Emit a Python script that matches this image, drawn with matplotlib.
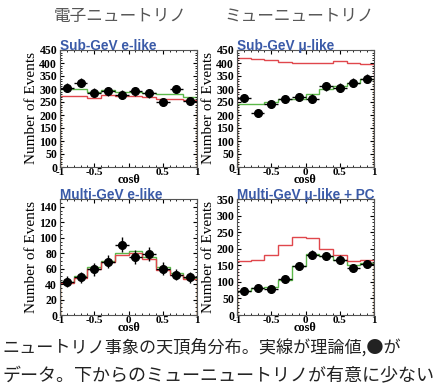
import numpy as np
import matplotlib
matplotlib.use("Agg")
import matplotlib.pyplot as plt
from matplotlib.ticker import MultipleLocator

# bin edges in cos(theta)
edges = [-1, -0.8, -0.6, -0.4, -0.2, 0, 0.2, 0.4, 0.6, 0.8, 1]
centers = [-0.9, -0.7, -0.5, -0.3, -0.1, 0.1, 0.3, 0.5, 0.7, 0.9]

# Sub-GeV e-like
sge_data = [305, 325, 285, 292, 278, 292, 283, 250, 300, 255]
sge_err = [17, 18, 17, 17, 17, 17, 17, 16, 17, 16]
sge_green = [300, 300, 288, 298, 290, 290, 285, 280, 280, 270]
sge_red = [275, 275, 265, 278, 275, 272, 270, 262, 262, 258]

# Sub-GeV mu-like
sgm_data = [265, 208, 242, 262, 268, 263, 310, 305, 325, 340]
sgm_err = [16, 14, 16, 16, 16, 16, 18, 17, 18, 18]
sgm_green = [242, 242, 250, 262, 262, 280, 300, 310, 325, 340]
sgm_red = [420, 416, 410, 402, 400, 400, 400, 407, 400, 398]

# Multi-GeV e-like
mge_data = [43, 49, 59, 69, 91, 75, 79, 60, 52, 49]
mge_err = [7, 7, 8, 8, 10, 9, 9, 8, 7, 7]
mge_green = [43, 50, 62, 70, 80, 83, 75, 62, 54, 48]
mge_red = [41, 48, 60, 68, 78, 80, 72, 58, 52, 46]

# Multi-GeV mu-like + PC
mgm_data = [72, 82, 78, 108, 148, 182, 178, 167, 143, 153]
mgm_err = [9, 9, 9, 10, 12, 13, 13, 13, 12, 12]
mgm_green = [73, 80, 85, 105, 148, 183, 178, 165, 150, 158]
mgm_red = [163, 165, 180, 210, 235, 232, 200, 180, 163, 165]

titles = ["Sub-GeV e-like", "Sub-GeV \u03bc-like", "Multi-GeV e-like", "Multi-GeV \u03bc-like + PC"]
header_labels = ["電子ニュートリノ", "ミューニュートリノ"]
caption = ["ニュートリノ事象の天頂角分布。実線が理論値,●が",
           "データ。下からのミューニュートリノが有意に少ない"]

W, H = 437, 389
fig = plt.figure(figsize=(W / 100, H / 100), dpi=100)

serif = "Liberation Serif"
cjk = ["Noto Sans CJK JP", "DejaVu Sans"]


def panel(rect, data, err, green, red, title, ymax, ystep, yminor, show_zero=True):
    l, t, w, h = rect
    ax = fig.add_axes([l / W, (H - t - h) / H, w / W, h / H])
    ax.stairs(green, edges, baseline=0, color="#5cb84a", lw=1.0)
    ax.stairs(red, edges, baseline=0, color="#e0474c", lw=1.0)
    ax.errorbar(centers, data, yerr=err, xerr=0.1, fmt="o", color="black",
                ms=5.5, elinewidth=1.0, capsize=0)
    ax.set_xlim(-1, 1)
    ax.set_ylim(0, ymax)
    ax.yaxis.set_major_locator(MultipleLocator(ystep))
    ax.yaxis.set_minor_locator(MultipleLocator(yminor))
    ax.xaxis.set_minor_locator(MultipleLocator(0.1))
    ticks = [-1, -0.5, 0, 0.5, 1]
    labels = ["-1", "-0.5", "0" if show_zero else "", "0.5", "1"]
    ax.set_xticks(ticks)
    ax.set_xticklabels(labels)
    ax.tick_params(which="both", direction="in", labelsize=8.5, pad=2,
                   top=True, right=True)
    ax.tick_params(axis="x", pad=0.5, labelsize=8)
    ax.tick_params(which="major", length=3)
    ax.tick_params(which="minor", length=1.5)
    for lab in ax.get_xticklabels() + ax.get_yticklabels():
        lab.set_fontfamily(serif)
        lab.set_fontweight("bold")
    for s in ax.spines.values():
        s.set_color("#555555")
        s.set_linewidth(0.8)
    ax.set_ylabel("Number of Events", fontfamily=serif, fontsize=11, labelpad=1)
    ax.set_xlabel("cos\u03b8", fontfamily=serif, fontweight="bold", fontsize=8.8,
                  labelpad=-1.8)
    ax.text(0.0, 1.0, title, transform=ax.transAxes, ha="left", va="baseline",
            fontfamily="Liberation Sans", fontweight="bold", fontsize=9.8,
            color="#3a5aa8")
    return ax


panel((60, 50, 137, 117), sge_data, sge_err, sge_green, sge_red, titles[0],
      450, 50, 10, show_zero=False)
panel((237, 50, 137, 117), sgm_data, sgm_err, sgm_green, sgm_red, titles[1],
      450, 50, 10)
panel((60, 199, 137, 116), mge_data, mge_err, mge_green, mge_red, titles[2],
      150, 20, 5)
panel((237, 199, 137, 116), mgm_data, mgm_err, mgm_green, mgm_red, titles[3],
      350, 50, 10)

fig.text(120 / W, 1 - 16 / H, header_labels[0], family=cjk, fontsize=12,
         color="#555555", ha="center", va="center")
fig.text(299 / W, 1 - 16 / H, header_labels[1], family=cjk, fontsize=12,
         color="#555555", ha="center", va="center")

fig.text(2 / W, 1 - 347 / H, caption[0], family=cjk, fontsize=12.3,
         color="#222222", ha="left", va="center")
fig.text(2 / W, 1 - 376 / H, caption[1], family=cjk, fontsize=13,
         color="#222222", ha="left", va="center")

fig.savefig("out.png", dpi=100)
